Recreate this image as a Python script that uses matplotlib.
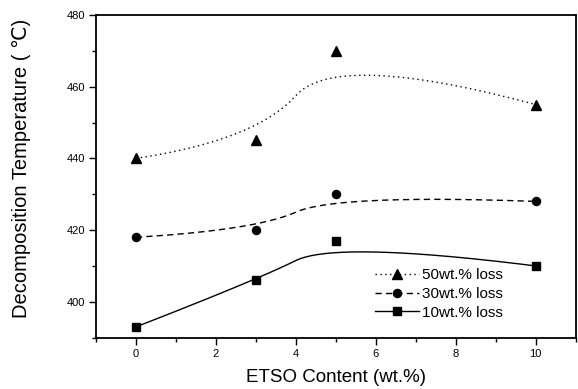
import numpy as np
import matplotlib.pyplot as plt
from matplotlib.ticker import MultipleLocator

plt.rcParams['font.family'] = ['Liberation Sans', 'DejaVu Sans']

etso = [0, 3, 5, 10]
loss50 = [440, 445, 470, 455]
loss30 = [418, 420, 430, 428]
loss10 = [393, 406, 417, 410]


def bspline(x, y, n=80):
    # quadratic B-spline with the data points as control points (Origin style)
    p = np.column_stack([x, y]).astype(float)
    k = len(p)
    starts = [p[0]] + [(p[i] + p[i + 1]) / 2 for i in range(1, k - 2)]
    ends = starts[1:] + [p[-1]]
    t = np.linspace(0, 1, n)[:, None]
    segs = []
    for a, c, b in zip(starts, p[1:-1], ends):
        segs.append((1 - t) ** 2 * a + 2 * (1 - t) * t * c + t ** 2 * b)
    curve = np.vstack(segs)
    return curve[:, 0], curve[:, 1]


fig = plt.figure(figsize=(5.78, 3.89), dpi=100)
ax = fig.add_axes([0.166, 0.132, 0.830, 0.8296])

series = [(loss50, '^', (0, (1, 2.5)), 7, '50wt.% loss'),
          (loss30, 'o', (0, (4.5, 3)), 5.8, '30wt.% loss'),
          (loss10, 's', '-', 5.6, '10wt.% loss')]
for vals, m, ls, ms, lab in series:
    cx, cy = bspline(etso, vals)
    ax.plot(cx, cy, color='black', ls=ls, lw=1.0)
    ax.plot(etso, vals, ls='none', marker=m, color='black', markersize=ms)
    ax.plot([], [], color='black', ls=ls, lw=1.0, marker=m, markersize=ms, label=lab)

ax.set_xlim(-1, 11)
ax.set_ylim(390, 480)
ax.xaxis.set_major_locator(MultipleLocator(2))
ax.xaxis.set_minor_locator(MultipleLocator(1))
ax.yaxis.set_major_locator(MultipleLocator(20))
ax.yaxis.set_minor_locator(MultipleLocator(10))
ax.tick_params(which='both', direction='out', labelsize=8, width=1.0)
ax.tick_params(which='major', length=5, pad=3)
ax.tick_params(which='minor', length=3)
for s in ax.spines.values():
    s.set_linewidth(1.3)

ax.set_xlabel('ETSO Content (wt.%)', fontsize=13.5)
ax.set_ylabel('Decomposition Temperature ( \u2103)', fontsize=14.5)
ax.xaxis.set_label_coords(0.5, -0.098)
ax.yaxis.set_label_coords(-0.135, 0.523)

ax.legend(loc='upper left', bbox_to_anchor=(375 / 578, 1 - 268 / 389),
          bbox_transform=fig.transFigure, frameon=False, fontsize=11,
          handlelength=2.9, handletextpad=0.15, labelspacing=0.32,
          borderpad=0, borderaxespad=0)

fig.savefig('out.png', dpi=100)
